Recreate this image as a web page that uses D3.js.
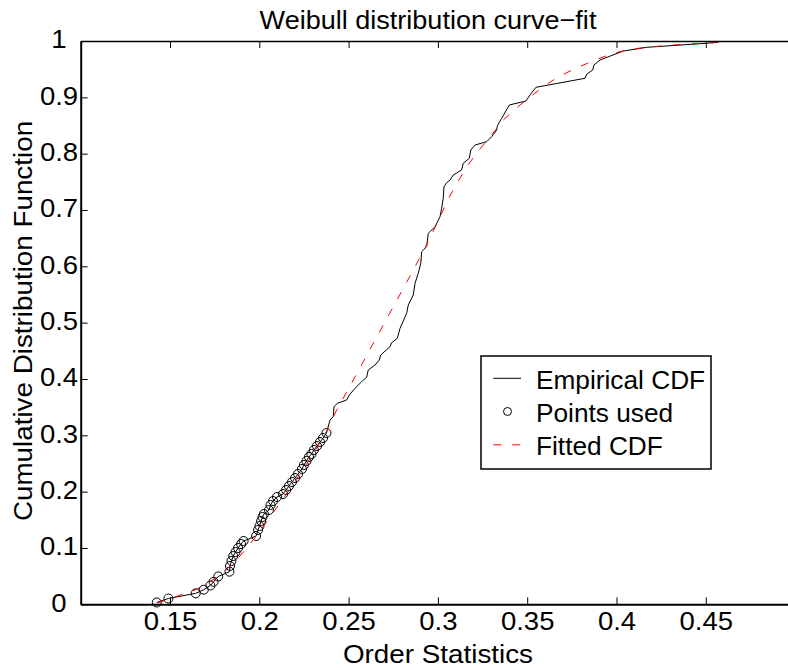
<!DOCTYPE html>
<html>
<head>
<meta charset="utf-8">
<script src="https://cdn.jsdelivr.net/npm/d3@7"></script>
<style>
  html, body { margin: 0; padding: 0; background: #fff; }
  svg { display: block; }
  text { font-family: "Liberation Sans", Arial, Helvetica, sans-serif; fill: #000; }
</style>
</head>
<body>
<svg id="chart" width="788" height="670"></svg>
<script>
// Tick values
const xTicks = [0.15, 0.2, 0.25, 0.3, 0.35, 0.4, 0.45];
const yTicks = [0, 0.1, 0.2, 0.3, 0.4, 0.5, 0.6, 0.7, 0.8, 0.9, 1];

// Order statistics used for the fit (lower tail of the sample)
const pointsX = [0.1426, 0.1491, 0.1644, 0.1689, 0.1726, 0.1744, 0.1770, 0.1833, 0.1836, 0.1844,
  0.1854, 0.1867, 0.1881, 0.1898, 0.1912, 0.1982, 0.1993, 0.2001, 0.2010, 0.2018,
  0.2026, 0.2054, 0.2063, 0.2077, 0.2099, 0.2133, 0.2150, 0.2166, 0.2183, 0.2200,
  0.2217, 0.2239, 0.2250, 0.2264, 0.2278, 0.2292, 0.2306, 0.2323, 0.2340, 0.2357, 0.2376];
const pointsY = [0.0032, 0.0103, 0.0195, 0.0259, 0.0334, 0.0399, 0.0494, 0.0579, 0.0680, 0.0769,
  0.0857, 0.0928, 0.0999, 0.1070, 0.1124, 0.1212, 0.1319, 0.1390, 0.1479, 0.1550,
  0.1603, 0.1674, 0.1763, 0.1834, 0.1905, 0.1958, 0.2029, 0.2100, 0.2171, 0.2242,
  0.2313, 0.2402, 0.2473, 0.2544, 0.2615, 0.2668, 0.2739, 0.2810, 0.2881, 0.2952, 0.3041];

// Upper part of the empirical CDF (continues after the points used)
const upperX = [0.2396, 0.2414, 0.2418, 0.2437, 0.2489, 0.2504, 0.2536, 0.2573, 0.2601, 0.2610,
  0.2648, 0.2672, 0.2680, 0.2732, 0.2741, 0.2773, 0.2788, 0.2825, 0.2834, 0.2862,
  0.2872, 0.2890, 0.2904, 0.2909, 0.2937, 0.2946, 0.2984, 0.3012, 0.3021, 0.3030,
  0.3034, 0.3049, 0.3068, 0.3086, 0.3133, 0.3142, 0.3176, 0.3184, 0.3208, 0.3273,
  0.3301, 0.3329, 0.3333, 0.3357, 0.3400, 0.3493, 0.3516, 0.3549, 0.3824, 0.3833,
  0.3867, 0.3874, 0.3908, 0.4038, 0.4169, 0.4505, 0.4570];
const upperY = [0.3272, 0.3330, 0.3508, 0.3568, 0.3627, 0.3716, 0.3835, 0.3952, 0.4030, 0.4159,
  0.4248, 0.4337, 0.4426, 0.4573, 0.4644, 0.4722, 0.4900, 0.5166, 0.5313, 0.5491,
  0.5699, 0.5876, 0.6054, 0.6260, 0.6348, 0.6586, 0.6703, 0.6881, 0.7030, 0.7208,
  0.7413, 0.7484, 0.7532, 0.7621, 0.7710, 0.7829, 0.7918, 0.8065, 0.8154, 0.8212,
  0.8301, 0.8420, 0.8496, 0.8628, 0.8864, 0.8935, 0.9042, 0.9178, 0.9338, 0.9409,
  0.9485, 0.9574, 0.9663, 0.9822, 0.9888, 0.9959, 0.9977];

// Fitted Weibull CDF
const fittedX = [0.1427, 0.1472, 0.1528, 0.1584, 0.1646, 0.1713, 0.1769, 0.1825, 0.1892, 0.1948,
  0.2004, 0.2060, 0.2144, 0.2228, 0.2312, 0.2377, 0.2433, 0.2508, 0.2592, 0.2676,
  0.2760, 0.2844, 0.2928, 0.2993, 0.3058, 0.3101, 0.3161, 0.3217, 0.3292, 0.3366,
  0.3460, 0.3590, 0.3674, 0.3772, 0.3880, 0.3982, 0.4085, 0.4206, 0.4318, 0.4496, 0.4568];
const fittedY = [0.0023, 0.0067, 0.0130, 0.0192, 0.0263, 0.0378, 0.0494, 0.0644, 0.0857, 0.1070,
  0.1301, 0.1550, 0.1923, 0.2313, 0.2722, 0.3077, 0.3449, 0.3875, 0.4364, 0.4852,
  0.5340, 0.5828, 0.6325, 0.6751, 0.7195, 0.7444, 0.7763, 0.8012, 0.8296, 0.8598,
  0.8864, 0.9189, 0.9366, 0.9515, 0.9663, 0.9782, 0.9858, 0.9899, 0.9929, 0.9964, 0.9977];

const legendLabels = ["Empirical CDF", "Points used", "Fitted CDF"];

const empirical = pointsX.map((d, i) => [d, pointsY[i]])
  .concat(upperX.map((d, i) => [d, upperY[i]]));
const points = pointsX.map((d, i) => [d, pointsY[i]]);
const fitted = fittedX.map((d, i) => [d, fittedY[i]]);

const svg = d3.select("#chart");
const plotLeft = 80.7, plotRight = 795.1, plotTop = 41, plotBottom = 604.3;

const x = d3.scaleLinear().domain([0.1, 0.5]).range([plotLeft, plotRight]);
const y = d3.scaleLinear().domain([0, 1]).range([plotBottom, plotTop]);
const fmt = d3.format("~g");

// Data layers
const line = d3.line().x(d => x(d[0])).y(d => y(d[1]));

svg.append("path")
  .datum(empirical)
  .attr("d", line)
  .attr("fill", "none")
  .attr("stroke", "#000")
  .attr("stroke-width", 1)
  .attr("stroke-linejoin", "round");

svg.append("g")
  .selectAll("circle")
  .data(points)
  .join("circle")
  .attr("cx", d => x(d[0]))
  .attr("cy", d => y(d[1]))
  .attr("r", 4.5)
  .attr("fill", "none")
  .attr("stroke", "#000")
  .attr("stroke-width", 1);

svg.append("path")
  .datum(fitted)
  .attr("d", line)
  .attr("fill", "none")
  .attr("stroke", "#ff0000")
  .attr("stroke-width", 1)
  .attr("stroke-dasharray", "8,11");

// Axes
const xAxis = svg.append("g")
  .attr("transform", `translate(0,${plotBottom})`)
  .call(d3.axisBottom(x).tickValues(xTicks).tickSizeInner(-7).tickSizeOuter(0).tickFormat(fmt));
xAxis.select(".domain").attr("stroke-width", 2);
xAxis.selectAll(".tick line").attr("stroke-width", 1);
xAxis.selectAll(".tick text")
  .attr("y", null).attr("dy", null)
  .attr("transform", "translate(0,25.7) scale(1.1,1)");

svg.append("g")
  .attr("transform", `translate(0,${plotTop})`)
  .call(d3.axisTop(x).tickValues(xTicks).tickSizeInner(-7).tickSizeOuter(0).tickFormat(""))
  .call(g => g.select(".domain").attr("stroke-width", 1.5));

const yAxis = svg.append("g")
  .attr("transform", `translate(${plotLeft},0)`)
  .call(d3.axisLeft(y).tickValues(yTicks).tickSizeInner(-7).tickSizeOuter(0).tickFormat(fmt));
yAxis.select(".domain").attr("stroke-width", 2);
yAxis.selectAll(".tick text")
  .attr("x", null).attr("dy", null)
  .attr("text-anchor", "middle")
  .attr("transform", "translate(-21.7,6.7) scale(1.1,1)");

svg.selectAll("g[font-family]").attr("font-family", null).attr("font-size", 25);
svg.selectAll(".tick text").attr("fill", "#000");
svg.selectAll(".domain, .tick line").attr("stroke", "#000");

// Titles
svg.append("text")
  .attr("transform", "translate(428,29) scale(1.04,1)")
  .attr("text-anchor", "middle")
  .attr("font-size", 26)
  .text("Weibull distribution curve\u2212fit");

svg.append("text")
  .attr("transform", "translate(438,662.7) scale(1.07,1)")
  .attr("text-anchor", "middle")
  .attr("font-size", 26)
  .text("Order Statistics");

svg.append("text")
  .attr("transform", "translate(32,321) rotate(-90) scale(1.07,1)")
  .attr("text-anchor", "middle")
  .attr("font-size", 26)
  .text("Cumulative Distribution Function");

// Legend
const lg = svg.append("g");
lg.append("rect")
  .attr("x", 481).attr("y", 356).attr("width", 230).attr("height", 113)
  .attr("fill", "#fff").attr("stroke", "#000").attr("stroke-width", 1.5);

const rowY = [378.3, 411.5, 444.8];
lg.append("line")
  .attr("x1", 493.3).attr("x2", 521).attr("y1", rowY[0]).attr("y2", rowY[0])
  .attr("stroke", "#000").attr("stroke-width", 1);
lg.append("circle")
  .attr("cx", 507.5).attr("cy", rowY[1]).attr("r", 4)
  .attr("fill", "none").attr("stroke", "#000").attr("stroke-width", 1);
lg.append("line")
  .attr("x1", 493.3).attr("x2", 521).attr("y1", rowY[2]).attr("y2", rowY[2])
  .attr("stroke", "#ff0000").attr("stroke-width", 1).attr("stroke-dasharray", "8,11");

lg.selectAll("text.leg")
  .data(legendLabels)
  .join("text")
  .attr("class", "leg")
  .attr("transform", (d, i) => `translate(536,${rowY[i] + 10.5}) scale(1.05,1)`)
  .attr("font-size", 25)
  .text(d => d);
</script>
</body>
</html>
